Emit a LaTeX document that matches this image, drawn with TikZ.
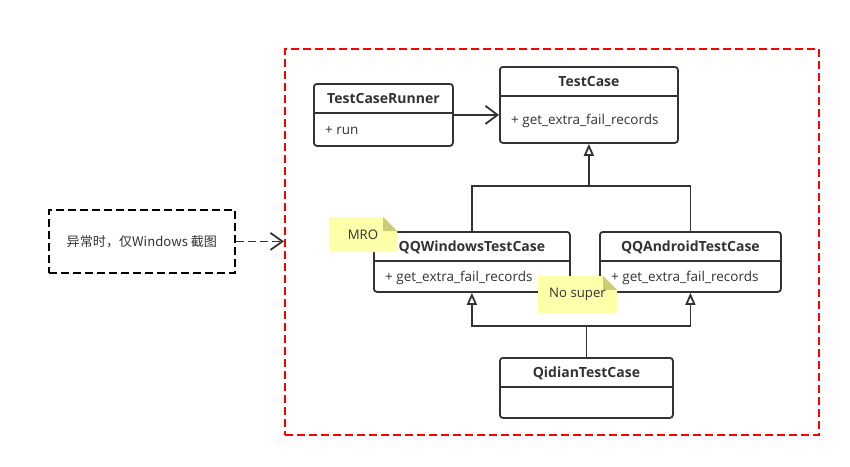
\documentclass[tikz,border=0pt]{standalone}
\usepackage{fontspec}
\setmainfont{Open Sans}
\newfontfamily\cjk{Noto Sans CJK SC}
\usetikzlibrary{arrows.meta}
\definecolor{umlline}{HTML}{333333}
\definecolor{notefill}{HTML}{FFFFAA}
\definecolor{notefold}{HTML}{CCCC77}
% id, north west corner, width, body height, name, member
\newcommand{\umlclass}[6]{%
  \node[classbox, minimum width=#3, minimum height=30+#4, anchor=north west] (#1) at (#2) {};
  \node[classname, anchor=base] (#1-name) at ([yshift=-20pt]#1.north) {#5};
  \draw[classline] ([yshift=-30pt]#1.north west) -- ([yshift=-30pt]#1.north east);
  \node[classmember, anchor=base west] (#1-member) at ([xshift=12pt,yshift=-35pt-0.5*#4pt]#1.north west) {#6};
}
% id, north west corner, width, height, text
\newcommand{\umlnote}[5]{%
  \coordinate (#1-nw) at (#2);
  \fill[notefill] (#1-nw) -- ++(#3-14,0) -- ++(14,14) -- ++(0,#4-14) -- ++(-#3,0) -- cycle;
  \fill[notefold] (#1-nw) ++(#3-14,0) -- ++(0,14) -- ++(14,0) -- cycle;
  \path (#1-nw) ++(#3/2,#4/2) node[notetext] (#1) {#5};
}

\begin{document}
\begin{tikzpicture}[x=1pt, y=-1pt,
    classbox/.style={draw=umlline, line width=1.8pt, rounded corners=3pt, fill=white, inner sep=0pt},
    classline/.style={draw=umlline, line width=1.8pt},
    classname/.style={font=\bfseries\fontsize{14}{16}\selectfont, text=umlline, inner sep=0pt},
    classmember/.style={font=\fontsize{13.5}{15}\selectfont, text=umlline, inner sep=0pt},
    notetext/.style={font=\fontsize{13.2}{15}\selectfont, text=umlline, inner sep=0pt},
    inherit/.style={draw=umlline, line width=1.8pt, -{Triangle[open, length=12pt, width=10pt]}},
    assoc/.style={draw=umlline, line width=1.8pt, -{Straight Barb[length=12pt, width=18pt]}},
    framebox/.style={draw=red, line width=1.8pt, dash pattern=on 8pt off 4pt},
    shotbox/.style={draw=black, line width=1.8pt, dash pattern=on 8pt off 4pt, font=\cjk\fontsize{13.1}{15}\selectfont, text=umlline},
    shotarrow/.style={draw=umlline, line width=1.8pt, dash pattern=on 8pt off 4pt, -{Straight Barb[length=12pt, width=17pt]}}]
  \useasboundingbox (0,0) rectangle (850,466);
  % outer frames
  \node[framebox, minimum width=534, minimum height=386, anchor=north west] (scope-frame) at (284,48) {};
  \node[shotbox, minimum width=186, minimum height=63, anchor=north west] (shot-note) at (48,209) {异常时，仅Windows 截图};
  \draw[shotarrow] (shot-note.east) -- (shot-note.east -| scope-frame.west);
  % classes
  \umlclass{runner}{313,83}{139}{32}{TestCaseRunner}{+ run}
  \umlclass{tc}{499,66}{178}{46}{TestCase}{+ get\_extra\_fail\_records}
  \umlclass{qqw}{373,231}{196}{30}{QQWindowsTestCase}{+ get\_extra\_fail\_records}
  \umlclass{qqa}{599,231}{181}{30}{QQAndroidTestCase}{+ get\_extra\_fail\_records}
  \umlclass{qid}{499,357}{173}{30}{QidianTestCase}{}
  % relations
  \coordinate (top-join) at (tc.south |- 0,186);
  \coordinate (bottom-join) at (qid.north |- 0,326);
  \draw[assoc] (runner.east) -- (runner.east -| tc.west);
  \draw[inherit] (qqw.north) |- (top-join) -- (tc.south);
  \draw[classline] (qqa.north) |- (top-join);
  \draw[classline] (qid.north) -- (bottom-join);
  \draw[inherit] (bottom-join) -| (qqw.south);
  \draw[inherit] (bottom-join) -| (qqa.south);
  % notes
  \umlnote{mro-note}{329,217}{68}{35}{MRO}
  \umlnote{super-note}{538,276}{79}{37}{No super}
\end{tikzpicture}
\end{document}
